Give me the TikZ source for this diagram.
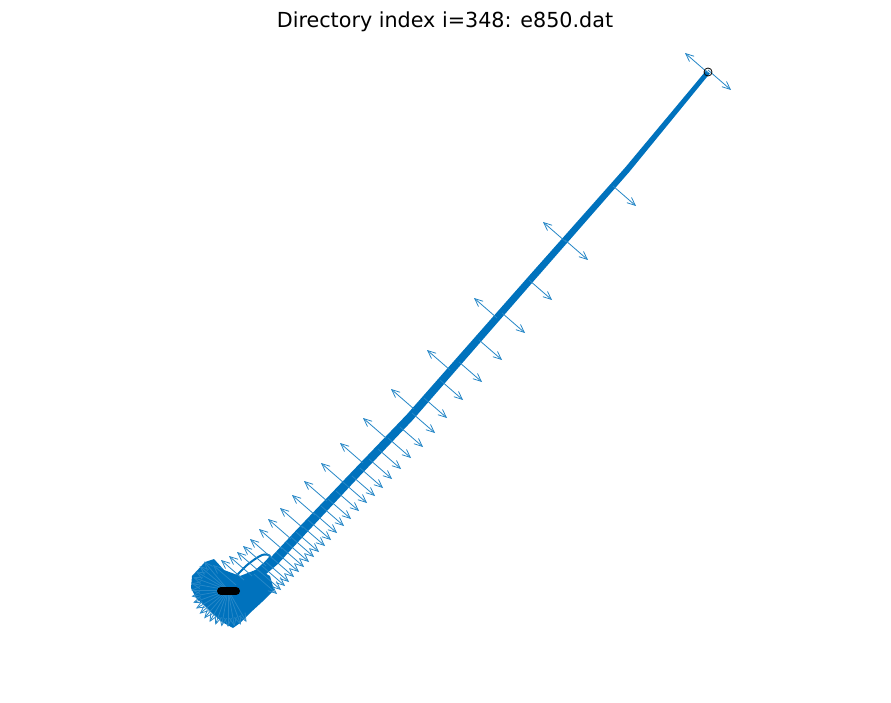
\documentclass[tikz,border=0pt]{standalone}
\usepackage{fontspec}
\setmainfont{DejaVu Sans}
\usetikzlibrary{arrows.meta}
\definecolor{mblue}{HTML}{0072BD}

\begin{document}
\begin{tikzpicture}[x=1pt,y=-1pt]
        \tikzset{quiv/.style={mblue!85, line width=0.8pt, -{Straight Barb[length=8pt,width=7pt]}}}
        \useasboundingbox[fill=white] (0,0) rectangle (891,703);
        \node[font=\fontsize{20.7}{24}\selectfont, anchor=base] (title) at (445,28) {Directory index i=348: e850.dat};
        \fill[mblue] (205,562) -- (214,559) -- (224,570) -- (240,576) -- (258,569)
                -- (270,576) -- (274,590) -- (262,602) -- (250,613) -- (240,623)
                -- (233,628) -- (222,622) -- (213,614) -- (205,606) -- (196,598)
                -- (191,588) -- (192,576) -- cycle;
        \foreach \a in {60,70,...,230}
                \draw[quiv] (228,590) -- ++(\a:37);
        \draw[mblue, line width=2pt] plot[smooth cycle] coordinates {(230,584) (246,566) (262,555) (270,557) (256,571) (238,585)};
        \coordinate (tip) at (708,72);
        \fill[mblue, line join=round] (239,595) -- (258.3,580.8) -- (278.4,563.5) -- (303.4,536.2)
                -- (353.2,482.9) -- (413,419.7) -- (532.6,282.3) -- (629.3,171.9) -- (709.8,73.5)
                -- (706.2,70.5) -- (624.7,168.1) -- (527.4,277.7) -- (407,414.3) -- (346.8,477.1)
                -- (296.6,529.8) -- (271.6,556.5) -- (251.7,573.2) -- (233,587) -- cycle;
        \foreach \x/\y in {731/90, 636/206, 588/260, 552/300, 525/333, 502/360, 482/382,
                463/400, 447/418, 435/433, 423/447, 411/458, 401/469, 392/479, 383/488,
                375/496, 367/503, 359/511, 351/519, 344/526, 337/533, 331/540, 325/546,
                319/552, 314/557, 309/562, 304/567, 299/572, 294/577, 289/582, 285/586,
                281/590, 277/594}
                \draw[quiv] (\x-23,\y-20) -- (\x,\y);
        \foreach \x/\y in {685/53, 543/222, 474/298, 427/350, 391/389, 363/418, 340/443,
                321/463, 304/481, 292/495, 280/508, 268/519, 259/529, 250/539, 243/546,
                237/552, 229/556, 221/560, 213/565}
                \draw[quiv] (\x+23,\y+20) -- (\x,\y);
        \draw[black, line width=8, line cap=round] (221,591) -- (236,591);
        \draw[black, line width=0.8] (tip) circle (4);
\end{tikzpicture}
\end{document}
